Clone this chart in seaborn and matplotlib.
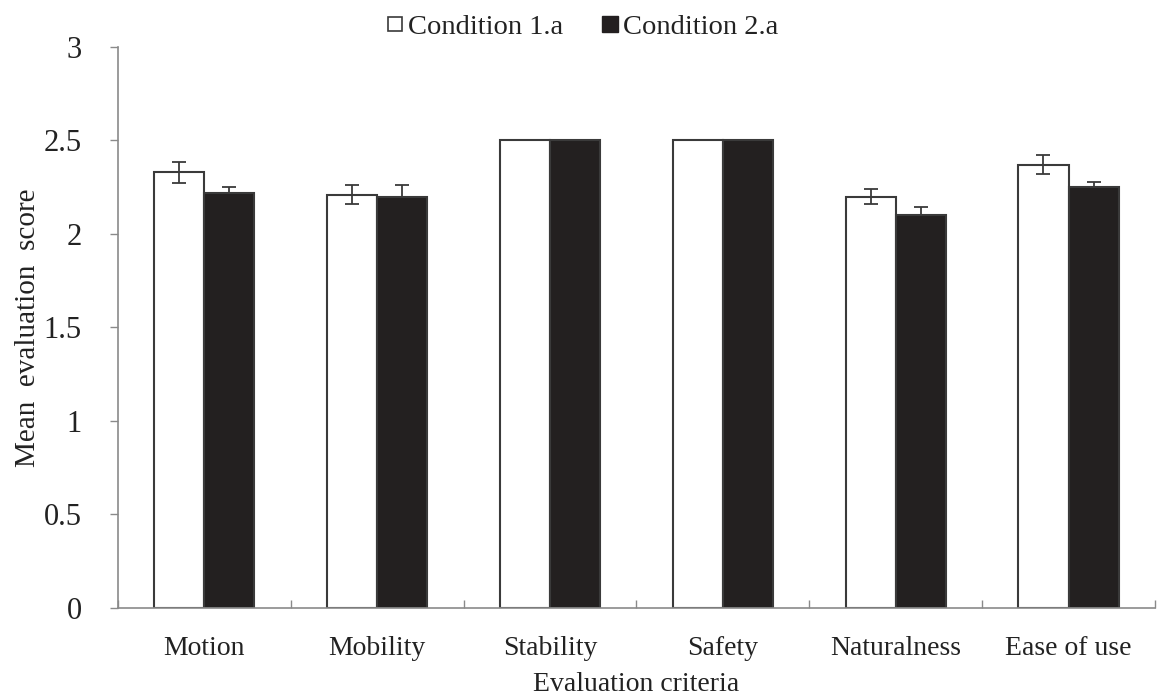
import numpy as np
import pandas as pd
import matplotlib
matplotlib.use("Agg")
import matplotlib.pyplot as plt
from matplotlib.ticker import FixedLocator
from matplotlib.lines import Line2D
import seaborn as sns

criteria = ["Motion", "Mobility", "Stability", "Safety", "Naturalness", "Ease of use"]
conditions = ["Condition 1.a", "Condition 2.a"]
cond1_mean = [2.33, 2.21, 2.50, 2.50, 2.20, 2.37]
cond2_mean = [2.22, 2.20, 2.50, 2.50, 2.10, 2.25]
cond1_err = [0.057, 0.05, 0.0, 0.0, 0.04, 0.05]
cond2_err = [0.03, 0.06, 0.0, 0.0, 0.045, 0.026]

df = pd.DataFrame({
    "criterion": criteria * 2,
    "condition": [conditions[0]] * 6 + [conditions[1]] * 6,
    "score": cond1_mean + cond2_mean,
    "err": cond1_err + cond2_err,
})

sns.set_style("white")
plt.rcParams["font.family"] = ["Liberation Serif", "DejaVu Serif"]

fig = plt.figure(figsize=(11.61, 6.99), dpi=100)
ax = fig.add_axes([0.1016, 0.1302, 0.8932, 0.8026])

edge = "#3a3a3a"
dark = "#231f20"
sns.barplot(
    data=df,
    x="criterion",
    y="score",
    hue="condition",
    order=criteria,
    hue_order=conditions,
    palette=["white", dark],
    edgecolor=edge,
    linewidth=1.5,
    width=0.58,
    errorbar=None,
    legend=False,
    ax=ax,
)

# error bars at bar centres (lower half hidden on the dark bars)
for patch, (_, row) in zip(ax.patches, df.iterrows()):
    if row["err"] > 0:
        xc = patch.get_x() + patch.get_width() / 2
        if row["condition"] == conditions[1]:
            yerr = [[0], [row["err"]]]
        else:
            yerr = row["err"]
        ax.errorbar(xc, row["score"], yerr=yerr, fmt="none",
                    ecolor=edge, elinewidth=1.3, capsize=5, capthick=1.3)

ax.set_ylim(0, 3)
ax.set_xlim(-0.5, 5.5)
ax.set_yticks(np.arange(0, 3.01, 0.5))
ax.set_yticklabels(["0", "0.5", "1", "1.5", "2", "2.5", "3"])

ax.set_xlabel("Evaluation criteria", fontsize=20, color="#222222", labelpad=8)
ax.set_ylabel("Mean  evaluation  score", fontsize=21, color="#222222", labelpad=2)

for s in ["top", "right"]:
    ax.spines[s].set_visible(False)
for s in ["left", "bottom"]:
    ax.spines[s].set_color("#8a8a8a")
    ax.spines[s].set_linewidth(1.2)

ax.tick_params(axis="y", direction="out", length=6, width=1, color="#8a8a8a",
               labelsize=22, labelcolor="#222222", pad=20, left=True)
ax.tick_params(axis="x", which="major", length=0, labelsize=20,
               labelcolor="#222222", pad=20)
ax.xaxis.set_minor_locator(FixedLocator(np.arange(-0.5, 5.6, 1.0)))
ax.tick_params(axis="x", which="minor", direction="in", length=6, width=1,
               color="#8a8a8a", bottom=True)

handles = [
    Line2D([], [], marker="s", linestyle="none", markersize=10,
           markerfacecolor="white", markeredgecolor=edge, markeredgewidth=1.2),
    Line2D([], [], marker="s", linestyle="none", markersize=12,
           markerfacecolor=dark, markeredgecolor=dark),
]
fig.legend(handles, conditions, loc="center", bbox_to_anchor=(0.4996, 0.961),
           ncol=2, frameon=False, fontsize=20.5, handletextpad=0.0,
           columnspacing=1.2, handlelength=0.9, labelcolor="#222222")

fig.savefig("out.png", dpi=100)
